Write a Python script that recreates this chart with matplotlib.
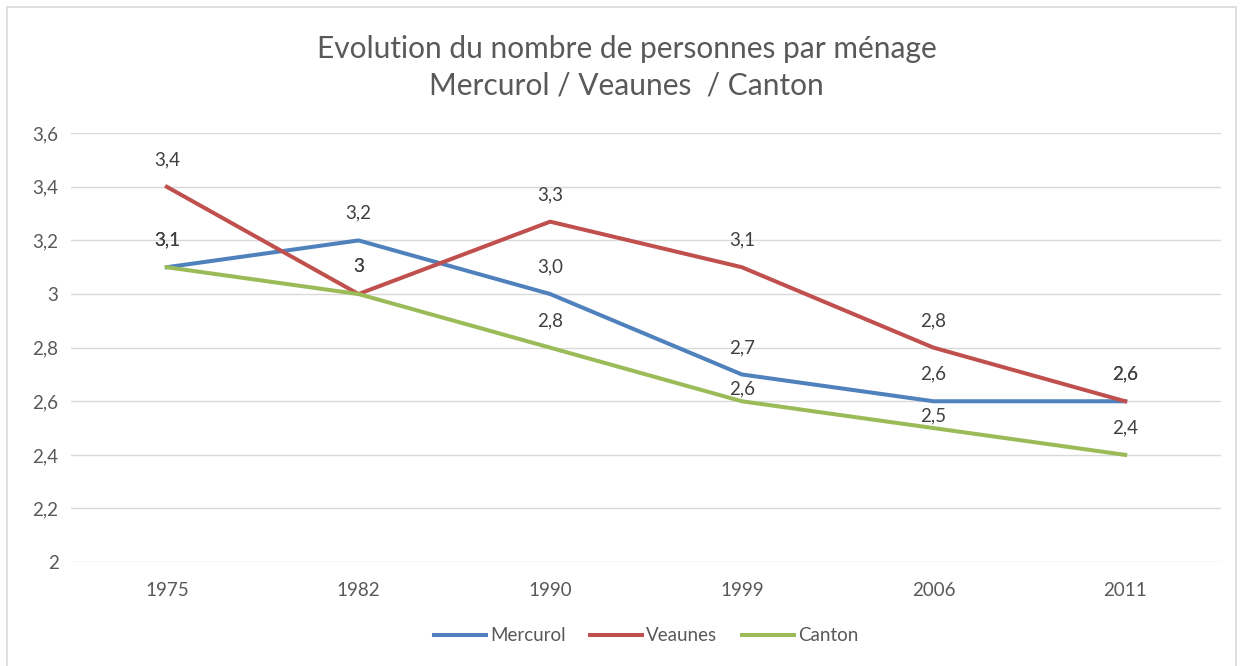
import matplotlib.pyplot as plt
from matplotlib.ticker import FuncFormatter, MultipleLocator
from matplotlib.patches import Rectangle

plt.rcParams['font.family'] = ['Lato', 'DejaVu Sans']

years = ['1975', '1982', '1990', '1999', '2006', '2011']
mercurol = [3.1, 3.2, 3.0, 2.7, 2.6, 2.6]
veaunes = [3.4, 3.0, 3.27, 3.1, 2.8, 2.6]
canton = [3.1, 3.0, 2.8, 2.6, 2.5, 2.4]

mercurol_lbl = ['3,1', '3,2', '3,0', '2,7', '2,6', '2,6']
veaunes_lbl = ['3,4', '3', '3,3', '3,1', '2,8', '2,6']
canton_lbl = ['3,1', '3', '2,8', '2,6', '2,5', '2,4']

series = [
    ('Mercurol', mercurol, mercurol_lbl, '#4F81BD'),
    ('Veaunes', veaunes, veaunes_lbl, '#C0504D'),
    ('Canton', canton, canton_lbl, '#9BBB59'),
]

fig = plt.figure(figsize=(12.41, 6.66), dpi=100)
ax = fig.add_axes([0.0572, 0.156, 0.9267, 0.644])

x = list(range(len(years)))
for name, vals, lbls, col in series:
    ax.plot(x, vals, color=col, lw=2.9, label=name, solid_joinstyle='round')
    for i, (v, s) in enumerate(zip(vals, lbls)):
        off = 19.5
        if name == 'Canton' and i in (3, 4):
            off = 9
        ax.annotate(s, (i, v), xytext=(0, off), textcoords='offset points',
                    ha='center', va='center', fontsize=13.5, color='#404040')

ax.set_xlim(-0.5, 5.5)
ax.set_ylim(2, 3.6)
ax.set_xticks(x)
ax.set_xticklabels(years)
ax.yaxis.set_major_locator(MultipleLocator(0.2))
ax.yaxis.set_major_formatter(FuncFormatter(lambda v, p: f'{round(v, 1):g}'.replace('.', ',')))
ax.tick_params(length=0, labelsize=13.5, labelcolor='#595959')
ax.tick_params(axis='x', pad=14)
ax.tick_params(axis='y', pad=9)
ax.grid(axis='y', color='#d9d9d9', lw=1)
ax.set_axisbelow(True)
for sp in ax.spines.values():
    sp.set_visible(False)

fig.text(0.505, 0.927, 'Evolution du nombre de personnes par ménage', ha='center',
         va='center', fontsize=21.5, color='#595959')
fig.text(0.505, 0.871, 'Mercurol / Veaunes  / Canton', ha='center',
         va='center', fontsize=21.5, color='#595959')

ax.legend(loc='center', bbox_to_anchor=(0.5, -0.172), ncol=3, frameon=False,
          fontsize=13.5, labelcolor='#595959', handlelength=2.8, handletextpad=0.2,
          columnspacing=1.3)

fig.patches.append(Rectangle((0.006, -0.01), 0.99, 0.999, transform=fig.transFigure,
                             fill=False, edgecolor='#d9d9d9', lw=1.2))

plt.savefig('out.png', dpi=100)
